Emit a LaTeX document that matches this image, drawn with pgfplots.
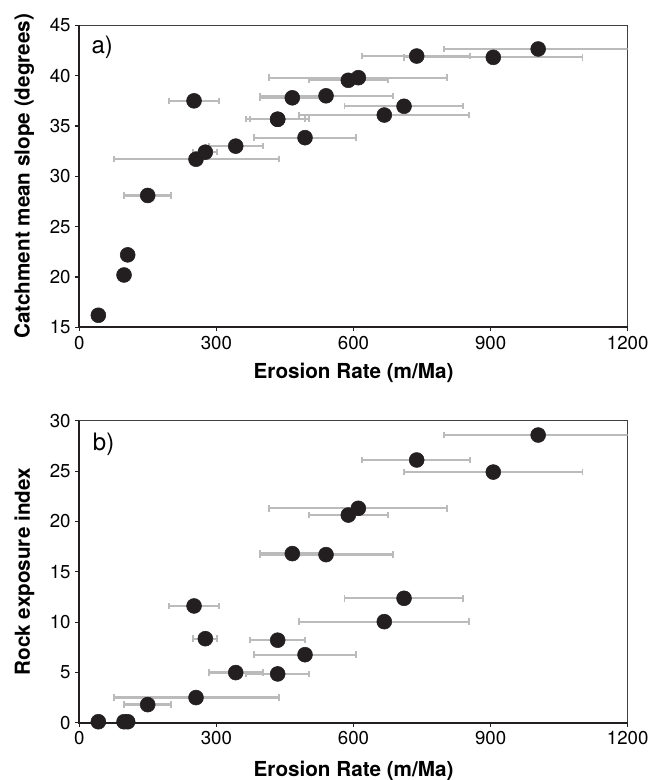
\documentclass[border=0pt]{standalone}
\usepackage{fontspec}
\setmainfont{TeX Gyre Heros}
\usepackage{pgfplots}
\usepackage{pgfplotstable}
\pgfplotsset{compat=1.18}
\definecolor{dotc}{HTML}{231F20}
\definecolor{barc}{HTML}{BBBBBB}

% erosion rate, slope, rock exposure, error plus / minus (m/Ma)
\pgfplotstableread{
x      slope  rock   ep     em
41.6   16.2   0.1    0      0
97.8   20.2   0.1    0      0
105.8  22.2   0.1    0      0
149.6  28.1   1.8    51.0   51.1
251.0  37.5   11.6   54.0   54.0
255.3  31.7   2.5    181.0  180.1
275.7  32.4   8.35   24.9   26.2
342.2  33.0   4.98   59.8   58.4
434.0  35.67  8.2    59.8   60.5
434.0  35.67  4.85   68.6   70.0
493.8  33.84  6.76   111.0  112.2
466.0  37.8   16.8   70.0   71.0
539.8  38.0   16.7   147.2  144.8
588.6  39.54  20.63  87.4   85.6
610.5  39.8   21.3   194.5  195.5
667.3  36.09  10.04  185.7  186.6
710.5  36.96  12.36  129.5  130.5
738.2  41.95  26.1   117.3  119.2
905.8  41.82  24.9   195.2  195.3
1004.0 42.65  28.58  210.0  205.4
}\erosion

\pgfplotsset{
  panel/.style={
    scale only axis, width=411.3pt, height=226.5pt,
    xmin=0, xmax=1200, xtick={0,300,...,1200},
    tick align=outside, tick pos=left, major tick length=3pt,
    tick style={dotc, line width=0.8pt},
    axis line style={line width=0.8pt, black!75},
    ticklabel style={font=\fontsize{14}{16}\selectfont},
    /pgf/number format/assume math mode=true,
    /pgf/number format/1000 sep={},
    xlabel style={font=\bfseries\fontsize{15.5}{17}\selectfont},
    xlabel={Erosion Rate (m/Ma)},
    every axis y label/.style={at={(axis description cs:-0.1003,0.5)}, rotate=90, anchor=center,
      font=\bfseries\fontsize{15.5}{17}\selectfont},
    clip mode=individual,
  },
  errs/.style={draw=none, forget plot,
    error bars/.cd, x dir=both, x explicit,
    error bar style={draw=barc, line width=1.7pt},
    error mark options={draw=barc, line width=1.3pt, mark size=2.4pt, rotate=90}},
  dots/.style={only marks, mark=*, mark size=5.6pt, mark options={fill=dotc, draw=dotc}},
}

\begin{document}
\begin{tikzpicture}
\path[use as bounding box] (-59.5pt,19pt) rectangle (437pt,-566pt);

\begin{axis}[panel, at={(0,0)}, anchor=north west,
  ymin=15, ymax=45, ytick={15,20,...,45},
  ylabel={Catchment mean slope (degrees)},
  xlabel style={at={(axis description cs:0.5,0)}, anchor=north, yshift=-23pt}]
\addplot[errs] table[x=x, y=slope, x error plus=ep, x error minus=em]{\erosion};
\addplot[dots] table[x=x, y=slope]{\erosion};
\draw[line width=1.7pt, dotc] (rel axis cs:0,1) -- (rel axis cs:0,0) -- (rel axis cs:1,0);
\node[anchor=north west, inner sep=0, font=\fontsize{18}{18}\selectfont, xshift=9pt, yshift=-8pt] at (rel axis cs:0,1) {a)};
\end{axis}

\begin{axis}[panel, at={(0,-296.55pt)}, anchor=north west,
  ymin=0, ymax=30, ytick={0,5,...,30},
  ylabel={Rock exposure index},
  xlabel style={at={(axis description cs:0.5,0)}, anchor=north, yshift=-25pt}]
\addplot[errs] table[x=x, y=rock, x error plus=ep, x error minus=em]{\erosion};
\addplot[dots] table[x=x, y=rock]{\erosion};
\draw[line width=1.7pt, dotc] (rel axis cs:0,1) -- (rel axis cs:0,0) -- (rel axis cs:1,0);
\node[anchor=north west, inner sep=0, font=\fontsize{18}{18}\selectfont, xshift=10pt, yshift=-9pt] at (rel axis cs:0,1) {b)};
\end{axis}
\end{tikzpicture}
\end{document}
